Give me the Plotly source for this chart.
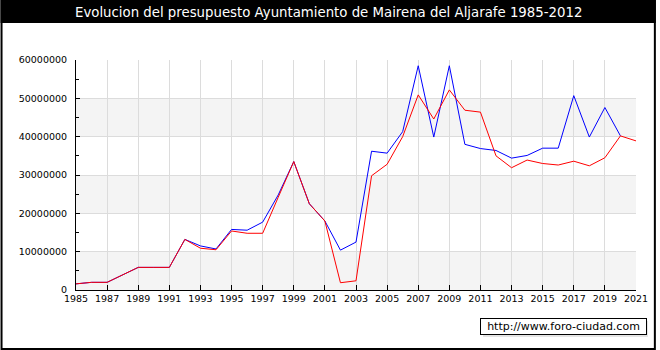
import plotly.graph_objects as go

years = list(range(1985, 2022))
ingresos = [1.6e6, 2.0e6, 2.0e6, 3.9e6, 5.9e6, 5.9e6, 5.9e6, 13.2e6, 11.5e6, 10.7e6,
            15.8e6, 15.6e6, 17.7e6, 24.8e6, 33.5e6, 22.5e6, 18.0e6, 10.4e6, 12.5e6, 36.2e6,
            35.7e6, 41.3e6, 58.5e6, 39.9e6, 58.5e6, 38.0e6, 36.9e6, 36.4e6, 34.4e6, 35.1e6,
            37.0e6, 37.0e6, 50.7e6, 39.9e6, 47.6e6, 40.2e6, None]
gastos = [1.6e6, 2.0e6, 2.0e6, 3.9e6, 5.9e6, 5.9e6, 5.9e6, 13.2e6, 10.9e6, 10.5e6,
          15.4e6, 14.8e6, 14.8e6, 24.2e6, 33.5e6, 22.5e6, 18.0e6, 1.9e6, 2.4e6, 29.8e6,
          32.8e6, 40.0e6, 50.9e6, 44.6e6, 52.2e6, 46.9e6, 46.4e6, 35.0e6, 31.9e6, 33.9e6,
          33.0e6, 32.6e6, 33.6e6, 32.4e6, 34.5e6, 40.2e6, 38.9e6]
title_text = "Evolucion del presupuesto Ayuntamiento de Mairena del Aljarafe 1985-2012"
watermark = "http://www.foro-ciudad.com"
y_ticks = [0, 10000000, 20000000, 30000000, 40000000, 50000000, 60000000]
x_ticks = list(range(1985, 2022, 2))

W, H = 660, 350
ML, MR, MT, MB = 76, 20, 60, 60

fig = go.Figure()
fig.add_trace(go.Scatter(x=years, y=ingresos, mode="lines", name="Ingresos",
                         line=dict(color="#0000ff", width=1), showlegend=False))
fig.add_trace(go.Scatter(x=years, y=gastos, mode="lines", name="Gastos",
                         line=dict(color="#ff0000", width=1), showlegend=False))

pw = W - ML - MR
ph = H - MT - MB

shapes = []
# alternating bands
for i in range(0, len(y_ticks) - 1, 2):
    shapes.append(dict(type="rect", xref="x", yref="y", x0=years[0], x1=years[-1],
                       y0=y_ticks[i], y1=y_ticks[i + 1], fillcolor="#f4f4f4",
                       line=dict(width=0), layer="below"))
# title bar
shapes.append(dict(type="rect", xref="paper", yref="paper",
                   x0=-ML / pw, x1=1 + MR / pw,
                   y0=1 + (MT - 23) / ph, y1=1 + MT / ph,
                   fillcolor="black", line=dict(width=0), layer="below"))
# outer border
shapes.append(dict(type="rect", xref="paper", yref="paper",
                   x0=(-ML + 1) / pw, x1=1 + (MR - 1) / pw,
                   y0=(-MB + 1) / ph, y1=1 + MT / ph,
                   fillcolor="rgba(0,0,0,0)", line=dict(color="black", width=2), layer="above"))
# watermark shadow
shapes.append(dict(type="rect", xref="paper", yref="paper",
                   x0=(486 - ML) / pw, x1=(652 - ML) / pw,
                   y0=(H - MB - 337) / ph, y1=(H - MB - 321) / ph,
                   fillcolor="#e4e4e4", line=dict(width=0), layer="above"))

fig.update_layout(
    width=W, height=H,
    margin=dict(l=ML, r=MR, t=MT, b=MB),
    paper_bgcolor="white", plot_bgcolor="white",
    font=dict(family="DejaVu Sans", size=9.5, color="black"),
    shapes=shapes,
    xaxis=dict(range=[years[0], years[-1]], tickvals=x_ticks, ticktext=[str(v) for v in x_ticks],
               showgrid=True, gridcolor="#dcdcdc", gridwidth=1,
               showline=True, linecolor="black", linewidth=1,
               ticks="inside", ticklen=5, tickcolor="black", zeroline=False,
               tickfont=dict(size=9.5)),
    yaxis=dict(range=[0, 60000000], tickvals=y_ticks, ticktext=[str(v) for v in y_ticks],
               showgrid=True, gridcolor="#dcdcdc", gridwidth=1,
               showline=True, linecolor="black", linewidth=1,
               ticks="inside", ticklen=4, tickcolor="black", zeroline=False,
               ticklabelstandoff=6,
               minor=dict(tickvals=[5e6, 15e6, 25e6, 35e6, 45e6, 55e6], ticks="inside",
                          ticklen=3, tickcolor="black", showgrid=False),
               tickfont=dict(size=9.5)),
    annotations=[
        dict(text=title_text, xref="paper", yref="paper", x=(330 - ML) / pw,
             y=1 + (MT - 12) / ph, xanchor="center", yanchor="middle", showarrow=False,
             font=dict(family="DejaVu Sans", size=13.3, color="white")),
        dict(text=watermark, xref="paper", yref="paper", x=(566.5 - ML) / pw,
             y=(H - MB - 326.5) / ph, xanchor="center", yanchor="middle", showarrow=False,
             font=dict(family="DejaVu Sans", size=11, color="black"),
             bgcolor="white", bordercolor="black", borderwidth=1, borderpad=1,
             width=163, height=13),
    ],
)

fig.write_html("out.html")
